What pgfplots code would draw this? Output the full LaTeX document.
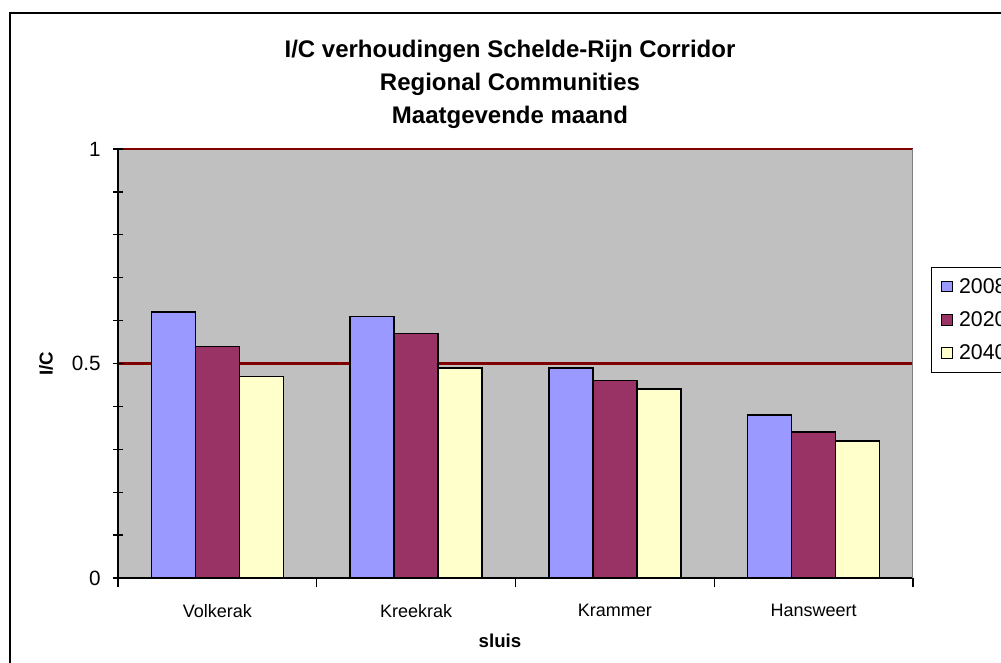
\documentclass[border=0pt]{standalone}
\usepackage{fontspec}
\setmainfont{Liberation Sans}
\usepackage{pgfplots}
\pgfplotsset{compat=1.18}
\definecolor{cA}{HTML}{9999FF}
\definecolor{cB}{HTML}{993366}
\definecolor{cC}{HTML}{FFFFCC}
\definecolor{plotbg}{HTML}{C0C0C0}
\definecolor{gridred}{HTML}{800000}
\begin{document}
\begin{tikzpicture}
\draw[line width=1.5pt] (7.5pt,-15pt) -- (7.5pt,487.5pt) -- (765pt,487.5pt);
\node[align=center,font=\bfseries\fontsize{18}{24.4}\selectfont] at (382.5pt,434pt)
  {I/C verhoudingen Schelde-Rijn Corridor\\Regional Communities\\Maatgevende maand};
\begin{axis}[
  at={(88.5pt,63.75pt)}, anchor=south west,
  scale only axis, width=596.25pt, height=321.75pt,
  xmin=-0.5, xmax=3.5, ymin=0, ymax=1,
  axis lines=left,
  axis line style={-, black, line width=1.5pt},
  axis background/.style={fill=plotbg},
  ybar=0pt, bar width=33pt,
  xtick={-0.5,0.5,1.5,2.5,3.5},
  x tick label as interval,
  xticklabels={Volkerak,Kreekrak,Krammer,Hansweert},
  ytick={0,0.5,1},
  yticklabels={0,0.5,1},
  minor ytick={0.1,0.2,0.3,0.4,0.6,0.7,0.8,0.9},
  ymajorgrids,
  major grid style={gridred, line width=2pt},
  y tick style={black, line width=1pt},
  x tick style={black, line width=1pt},
  major tick length=7pt, minor tick length=7pt,
  ytick align=center,
  xtick align=outside,
  /pgf/number format/assume math mode=true,
  yticklabel style={font=\fontsize{15.5}{18}\selectfont, xshift=-6pt},
  xticklabel style={font=\fontsize{13.5}{16}\selectfont, yshift=-9pt},
  xlabel={sluis},
  ylabel={I/C},
  xlabel style={font=\bfseries\fontsize{14}{16}\selectfont, at={(axis description cs:0.4805,-0.1469)}, anchor=center},
  ylabel style={font=\bfseries\fontsize{14}{16}\selectfont, at={(axis description cs:-0.0906,0.5)}, anchor=center},
  legend style={at={(rel axis cs:1.0226,0.725)}, anchor=north west,
    draw=black, line width=0.75pt, fill=white,
    font=\fontsize{16}{18}\selectfont, row sep=8.25pt,
    inner xsep=5pt, inner ysep=6pt},
  legend cell align=left,
  legend image code/.code={\draw[#1, line width=0.75pt] (2.25pt,-4pt) rectangle (10.25pt,4pt); \path (0pt,0pt) (12.5pt,0pt);},
]
\addplot[fill=cA, draw=black, line width=1.2pt] coordinates {(0,0.62) (1,0.61) (2,0.49) (3,0.38)};
\addplot[fill=cB, draw=black, line width=1.2pt] coordinates {(0,0.54) (1,0.57) (2,0.46) (3,0.34)};
\addplot[fill=cC, draw=black, line width=1.2pt] coordinates {(0,0.47) (1,0.49) (2,0.44) (3,0.32)};
\legend{2008,2020,2040}
\draw[gray, line width=1pt] (rel axis cs:1,0) -- (rel axis cs:1,1);
\end{axis}
\pgfresetboundingbox
\useasboundingbox (0pt,0pt) rectangle (750.75pt,497.25pt);
\end{tikzpicture}
\end{document}
